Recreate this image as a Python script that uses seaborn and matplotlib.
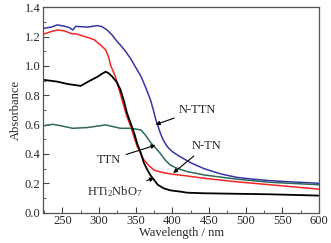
import pandas as pd
import seaborn as sns
import matplotlib.pyplot as plt
from matplotlib.ticker import MultipleLocator

# N-TTN (blue)
nttn_wl = [225, 235, 243, 254, 260, 264, 268, 284, 298, 304, 311, 318, 324, 329, 336,
           343, 350, 357, 363, 370, 374, 377, 381, 384, 388, 393, 400, 411, 425, 443,
           465, 488, 510, 533, 560, 600]
nttn_abs = [1.257, 1.265, 1.28, 1.27, 1.26, 1.245, 1.27, 1.265, 1.275, 1.268, 1.245,
            1.21, 1.17, 1.143, 1.10, 1.05, 0.99, 0.93, 0.86, 0.77, 0.70, 0.64, 0.58,
            0.535, 0.49, 0.45, 0.415, 0.38, 0.34, 0.30, 0.265, 0.24, 0.228, 0.218,
            0.21, 0.20]

# N-TN (red)
ntn_wl = [225, 235, 243, 252, 264, 268, 284, 293, 302, 309, 313, 316, 322, 329, 334,
          338, 343, 348, 352, 357, 361, 368, 375, 385, 397, 420, 443, 488, 533, 600]
ntn_abs = [1.218, 1.235, 1.245, 1.24, 1.218, 1.22, 1.195, 1.18, 1.143, 1.11, 1.06,
           1.0, 0.93, 0.81, 0.72, 0.655, 0.59, 0.51, 0.45, 0.40, 0.36, 0.32, 0.29,
           0.275, 0.264, 0.25, 0.234, 0.21, 0.19, 0.16]

# HTi2NbO7 (black)
hti_wl = [225, 243, 257, 275, 284, 298, 305, 309, 313, 318, 324, 329, 334, 338, 343,
          348, 352, 357, 361, 366, 370, 375, 380, 388, 397, 411, 420, 443, 533, 600]
hti_abs = [0.905, 0.893, 0.877, 0.864, 0.89, 0.927, 0.95, 0.961, 0.95, 0.927, 0.89,
           0.84, 0.76, 0.68, 0.61, 0.54, 0.47, 0.405, 0.34, 0.29, 0.255, 0.223, 0.19,
           0.166, 0.152, 0.143, 0.136, 0.132, 0.125, 0.116]

# TTN (green)
ttn_wl = [225, 237, 250, 264, 284, 309, 329, 343, 357, 363, 370, 375, 379, 384, 390,
          397, 405, 411, 420, 443, 488, 533, 600]
ttn_abs = [0.593, 0.602, 0.59, 0.575, 0.58, 0.598, 0.575, 0.575, 0.564, 0.53, 0.48,
           0.45, 0.43, 0.40, 0.36, 0.325, 0.305, 0.295, 0.28, 0.257, 0.228, 0.207, 0.19]

sns.set_style("ticks")
plt.rcParams['font.family'] = ['Liberation Serif', 'DejaVu Serif']
plt.rcParams['mathtext.fontset'] = 'custom'
plt.rcParams['mathtext.rm'] = 'Liberation Serif'
plt.rcParams['mathtext.it'] = 'Liberation Serif:italic'
plt.rcParams['mathtext.default'] = 'regular'

fig = plt.figure(figsize=(3.31, 2.43), dpi=100, facecolor="white")
ax = fig.add_axes([0.131, 0.125, 0.833, 0.845])

sns.lineplot(x=nttn_wl, y=nttn_abs, color='#3535a5', lw=1.1, ax=ax)
sns.lineplot(x=ntn_wl, y=ntn_abs, color='#f52525', lw=1.1, ax=ax)
sns.lineplot(x=ttn_wl, y=ttn_abs, color='#2f6a58', lw=1.1, ax=ax)
sns.lineplot(x=hti_wl, y=hti_abs, color='black', lw=1.3, ax=ax)

ax.set_xlim(224, 600)
ax.set_ylim(0, 1.4)
ax.xaxis.set_major_locator(MultipleLocator(50))
ax.xaxis.set_minor_locator(MultipleLocator(25))
ax.yaxis.set_major_locator(MultipleLocator(0.2))
ax.yaxis.set_minor_locator(MultipleLocator(0.1))
ax.yaxis.set_major_formatter(plt.FormatStrFormatter('%.1f'))
ax.tick_params(which='both', direction='in', labelsize=9, pad=2, color='#444444')
ax.tick_params(which='major', length=4, width=0.8)
ax.tick_params(which='minor', length=2, width=0.6)
for s in ax.spines.values():
    s.set_color('#555555')
    s.set_linewidth(0.9)

ax.set_xlabel("Wavelength / nm", fontsize=9, labelpad=0)
ax.set_ylabel("Absorbance", fontsize=9, labelpad=2)

# labels with arrows
arrow = dict(arrowstyle='-|>', color='black', lw=0.8, mutation_scale=6,
             shrinkA=1, shrinkB=0)
ax.annotate("N-TTN", xy=(377, 0.60), xytext=(434, 0.70), fontsize=9,
            ha='center', va='center', arrowprops=arrow)
ax.annotate("N-TN", xy=(401, 0.27), xytext=(446, 0.455), fontsize=9,
            ha='center', va='center', arrowprops=arrow)
ax.annotate("TTN", xy=(377, 0.46), xytext=(314, 0.36), fontsize=9,
            ha='center', va='center', arrowprops=arrow)
ax.annotate("HTi$_2$NbO$_7$", xy=(375, 0.235), xytext=(321, 0.145), fontsize=9,
            ha='center', va='center', arrowprops=arrow)

plt.savefig("out.png", dpi=100)
